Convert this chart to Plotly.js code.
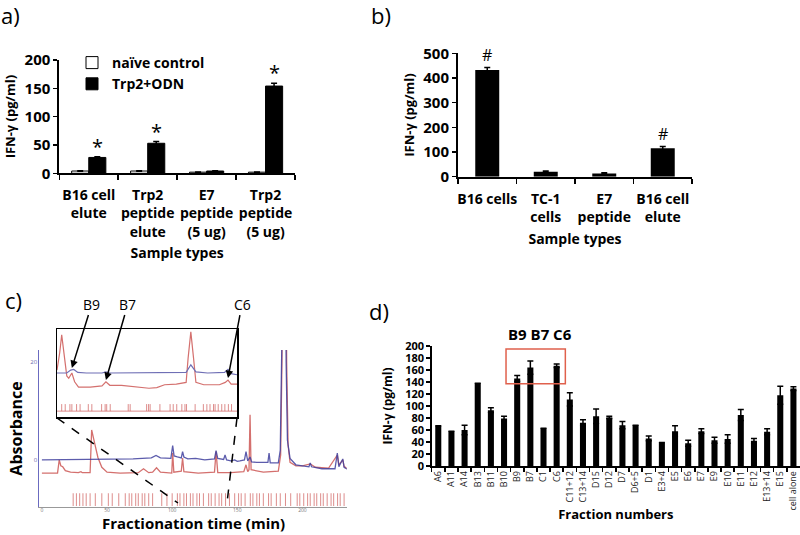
<!DOCTYPE html>
<html>
<head>
<meta charset="utf-8">
<script src="https://cdn.plot.ly/plotly-3.0.1.min.js"></script>
<style>html,body{margin:0;padding:0;background:#fff;}#chart{width:800px;height:535px;}</style>
</head>
<body>
<div id="chart"></div>
<script>
// ---------- Panel a ----------
const aCats = ['B16 cell<br>elute', 'Trp2<br>peptide<br>elute', 'E7<br>peptide<br>(5 ug)', 'Trp2<br>peptide<br>(5 ug)'];
const aNaive = [4, 4, 2, 2];
const aNaiveErr = [0.5, 0.5, 0.3, 0.3];
const aTrp2 = [28, 53, 4, 154];
const aTrp2Err = [1, 3, 0.5, 5];
const aStars = ['*', '*', '', '*'];

// ---------- Panel b ----------
const bCats = ['B16 cells', 'TC-1<br>cells', 'E7<br>peptide', 'B16 cell<br>elute'];
const bVals = [432, 20, 13, 115];
const bErr = [10, 3, 3, 7];
const bMarks = ['#', '', '', '#'];

// ---------- Panel c (chromatogram) ----------
const cBlueT = [0, 40, 70, 84, 87.6, 91, 99, 100.4, 101.5, 104, 107, 108, 109, 112, 118, 125, 132.5, 133.7, 135, 139.5, 140.6, 141.8, 145, 148, 150, 152, 155.5, 156.7, 158, 159.8, 161, 165, 173.5, 174.4, 175.3, 181.5, 183, 184, 184.7, 186.7, 187.5, 188.5, 190.5, 195, 200, 205, 206, 207, 215, 225, 226.8, 228, 231, 232, 235];
const cBlueV = [0, 0.1, 0.2, 0.4, 0.9, 0.4, 0.3, 2.9, 0.8, 0.6, 0.4, 1.7, 0.6, 0.2, 0.3, 0.0, 0.2, 1.9, 0.3, 0.1, 1.0, 0.0, -0.2, 0.0, -0.3, -0.2, 0.0, 1.7, -0.2, 0.6, -0.4, -0.5, -0.5, 1.4, -0.6, -0.6, 2, 20, 60, 60, 20, 4, 0.3, -1.0, -1.2, -1.4, -0.6, -1.4, -1.8, -1.8, 1.4, -1.4, 0.2, -1.5, -2.0];
const cRedT = [0, 12, 13.3, 14.5, 16, 18, 22, 28, 30, 31, 37, 38.2, 40, 43, 46, 50, 60, 74, 78, 82, 85, 88, 91, 99.7, 100.4, 101.3, 107, 108, 109, 120, 132.5, 133.7, 135, 145, 155, 156.7, 158, 159, 159.8, 160.6, 170, 181.5, 183.3, 184.3, 185.1, 187.1, 187.9, 189, 190.5, 195, 200, 206, 210, 220, 226.8, 228, 231, 232, 235];
const cRedV = [-2.7, -2.7, 0, -1.2, -1.4, -2.2, -2.5, -2.6, -2.4, -2.6, -2.6, 6.1, 4.0, 0.5, -1.5, -2.5, -2.7, -2.6, -1.8, -2.6, -2.5, -1.6, -2.5, -2.7, 1.4, -2.5, -2.3, 0.4, -2.4, -2.7, -2.5, 1.7, -2.6, -2.6, -2.4, -1.0, -2.4, -2.0, 9.2, -2.0, -2.5, -2.3, 1, 20, 60, 60, 20, 3, -0.5, -1.2, -1.2, -0.8, -1.5, -1.7, 1.0, -1.0, 0.0, -1.3, -1.9];
const cFracTimes = [24, 26.5, 29, 31.5, 34, 37, 41, 46, 51, 54, 59, 64, 67, 69, 72, 74, 77, 79, 82, 85, 92, 96, 100, 104, 106, 109, 111, 114, 116, 119, 121, 124, 128, 130, 133, 136, 138, 141, 144, 148, 151, 153, 156, 160, 162, 165, 167, 170, 174, 176, 180, 183, 187, 191, 196, 198, 201, 204, 206, 209, 211, 214, 216, 219, 222, 224, 227, 229, 232];
const cXTicks = [0, 50, 100, 150, 200];
const cYTicks = [0, 20];

// ---------- Panel c inset ----------
const iBlueT = [96.5, 99, 100, 100.8, 101.8, 104, 108, 109, 110, 120, 129.5, 130.7, 132, 135, 139.3, 140.2, 141, 142.5];
const iBlueV = [2.5, 2.5, 3.0, 3.1, 2.6, 2.5, 2.5, 2.7, 2.5, 2.5, 2.6, 3.9, 2.7, 2.5, 2.6, 3.1, 2.4, 2.2];
const iRedT = [96.5, 97.2, 97.7, 98.3, 99, 99.5, 100.3, 101, 102, 105, 108, 109, 110, 113, 116, 120, 122, 124, 127, 129.5, 130, 130.7, 131.4, 132, 134, 138, 139.5, 140.2, 141, 142.5];
const iRedV = [3, 6, 9.0, 6, 2.0, 1.6, 2.5, 1.0, 0.1, 0.1, 0.3, 1.0, 0.4, 0.4, 0.2, -0.1, 0.0, 0.5, 0.6, 0.9, 5, 9.5, 5, 0.9, 0.5, 0.5, 0.9, 1.3, 0.6, 0.6];
const iFracTimes = [97.7, 98.6, 99.8, 100.3, 101.5, 102.4, 104.5, 105.4, 107.9, 108.8, 109.2, 110.1, 114.7, 115.2, 119.4, 119.9, 120.3, 122.8, 125.4, 126.2, 127.1, 128.4, 129.2, 129.6, 131.8, 133.9, 134.8, 135.6, 136.5, 136.9, 137.7, 138.6, 139.4, 140.3, 141.1];
const iLabels = ['B9', 'B7', 'C6'];
const iLabelT = [100.3, 109, 140.2];
const iLabelV = [3.35, 1.3, 1.64];

// ---------- Panel d ----------
const dCats = ['A6', 'A11', 'A14', 'B13', 'B11', 'B10', 'B9', 'B7', 'C1', 'C6', 'C11+12', 'C13+14', 'D15', 'D12', 'D7', 'D6+5', 'D1', 'E3+4', 'E5', 'E6', 'E7', 'E9', 'E10', 'E11', 'E12', 'E13+14', 'E15', 'cell alone'];
const dVals = [67, 58, 60, 138, 93, 79, 146, 164, 63, 167, 111, 72, 83, 81, 68, 68, 46, 39, 58, 38, 58, 43, 45, 85, 42, 57, 118, 129];
const dErr = [0, 0, 8, 0, 4, 4, 5, 11, 0, 3, 11, 5, 12, 2, 6, 0, 4, 0, 9, 5, 4, 5, 7, 9, 4, 5, 15, 3];

// ---------- styles ----------
const FONT = 'Open Sans, Noto Sans, sans-serif';
const RED = '#d4706e';
const BLUE = '#3f3f9e';
const errStyle = {type: 'data', visible: true, color: '#000', thickness: 1.5, width: 3};

// build fraction tick segments
function segs(times, lo, hi) {
  const x = [], y = [];
  times.forEach(t => { x.push(t, t, null); y.push(lo, hi, null); });
  return {x, y};
}
const mainFr = segs(cFracTimes, -9.4, -6.8);
const insFr = segs(iFracTimes, -4.0, -2.8);
insFr.x.push(iBlueT[0], iBlueT[iBlueT.length - 1]);
insFr.y.push(-4.0, -4.0);

const traces = [
  {type: 'bar', x: aCats, y: aNaive, name: 'naïve control', xaxis: 'x', yaxis: 'y',
   marker: {color: '#fff', line: {color: '#000', width: 1}},
   error_y: Object.assign({array: aNaiveErr}, errStyle)},
  {type: 'bar', x: aCats, y: aTrp2, name: 'Trp2+ODN', xaxis: 'x', yaxis: 'y',
   marker: {color: '#000', line: {color: '#000', width: 1}},
   error_y: Object.assign({array: aTrp2Err}, errStyle)},
  {type: 'bar', x: bCats, y: bVals, xaxis: 'x2', yaxis: 'y2', showlegend: false, width: 0.41,
   marker: {color: '#000'}, error_y: Object.assign({array: bErr}, errStyle)},
  {type: 'scatter', mode: 'lines', x: mainFr.x, y: mainFr.y, xaxis: 'x3', yaxis: 'y3', showlegend: false,
   line: {color: RED, width: 0.8}, connectgaps: false},
  {type: 'scatter', mode: 'lines', x: cRedT, y: cRedV, xaxis: 'x3', yaxis: 'y3', showlegend: false,
   line: {color: RED, width: 1.3}},
  {type: 'scatter', mode: 'lines', x: cBlueT, y: cBlueV, xaxis: 'x3', yaxis: 'y3', showlegend: false,
   line: {color: BLUE, width: 1.3}, opacity: 0.85},
  {type: 'scatter', mode: 'lines', x: insFr.x, y: insFr.y, xaxis: 'x4', yaxis: 'y4', showlegend: false,
   line: {color: RED, width: 0.8}, connectgaps: false},
  {type: 'scatter', mode: 'lines', x: iRedT, y: iRedV, xaxis: 'x4', yaxis: 'y4', showlegend: false,
   line: {color: RED, width: 1.2}},
  {type: 'scatter', mode: 'lines', x: iBlueT, y: iBlueV, xaxis: 'x4', yaxis: 'y4', showlegend: false,
   line: {color: '#6f6fb5', width: 1.2}},
  {type: 'bar', x: dCats, y: dVals, xaxis: 'x5', yaxis: 'y5', showlegend: false, width: 0.46,
   marker: {color: '#000'}, error_y: Object.assign({array: dErr}, errStyle)}
];

const boldTick = (s) => ({family: FONT, size: s, color: '#000', weight: 'bold'});
const catX = (dom, anchor, fsize) => ({
  domain: dom, anchor: anchor, type: 'category', showline: true, linecolor: '#000', linewidth: 2,
  ticks: 'outside', tickson: 'boundaries', ticklen: 5, tickwidth: 1.5, tickcolor: '#000', tickangle: 0,
  showgrid: false, zeroline: false, tickfont: boldTick(fsize), fixedrange: true
});
const numY = (dom, anchor, range, dtick, fsize) => ({
  domain: dom, anchor: anchor, range: range, dtick: dtick, showline: true, linecolor: '#000', linewidth: 2,
  ticks: 'outside', ticklen: 4, tickwidth: 1.5, tickcolor: '#000', showgrid: false, zeroline: false,
  tickfont: boldTick(fsize), fixedrange: true
});

const annotations = [];
// panel labels
[['a)', 10, 15], ['b)', 381, 15], ['c)', 13, 300], ['d)', 379, 311]].forEach(([t, px, py]) => {
  annotations.push({text: t, xref: 'paper', yref: 'paper', x: px / 800, y: 1 - py / 535,
    xanchor: 'center', yanchor: 'middle', showarrow: false, font: {family: FONT, size: 22, color: '#000'}});
});
// stars panel a
aStars.forEach((s, i) => {
  if (!s) return;
  annotations.push({text: s, xref: 'x', yref: 'y', x: i, y: aTrp2[i] + aTrp2Err[i], xshift: 8.6, yshift: -5,
    yanchor: 'bottom', showarrow: false, font: {family: FONT, size: 20, color: '#000'}});
});
// # panel b
bMarks.forEach((s, i) => {
  if (!s) return;
  annotations.push({text: s, xref: 'x2', yref: 'y2', x: i, y: bVals[i] + bErr[i], yshift: 0,
    yanchor: 'bottom', showarrow: false, font: {family: FONT, size: 16, color: '#000'}});
});
// inset arrows
const arrOff = [[20, -64], [22, -76], [14, -74]];
iLabels.forEach((l, i) => {
  annotations.push({text: l, xref: 'x4', yref: 'y4', x: iLabelT[i], y: iLabelV[i],
    ax: arrOff[i][0], ay: arrOff[i][1], showarrow: true, arrowhead: 2, arrowsize: 1, arrowwidth: 1.5,
    arrowcolor: '#000', font: {family: FONT, size: 14, color: '#000'}});
});
// panel d header
annotations.push({text: '<b>B9 B7 C6</b>', xref: 'paper', yref: 'paper', x: 540 / 800, y: 1 - 334 / 535,
  xanchor: 'center', yanchor: 'middle', showarrow: false, font: {family: FONT, size: 15, color: '#000'}});
// panel c x-axis title (placed as annotation so it sits below the tiny tick labels)
annotations.push({text: '<b>Fractionation time (min)</b>', xref: 'paper', yref: 'paper', x: 193 / 800, y: 0,
  xanchor: 'center', yanchor: 'bottom', yshift: 0, showarrow: false, font: {family: FONT, size: 15, color: '#000'}});

const shapes = [
  {type: 'line', xref: 'paper', yref: 'paper', x0: 57 / 800, y0: 1 - 418 / 535, x1: 178 / 800, y1: 1 - 503 / 535,
   line: {color: '#000', width: 1.5, dash: 'dash'}},
  {type: 'line', xref: 'paper', yref: 'paper', x0: 237 / 800, y0: 1 - 418 / 535, x1: 227 / 800, y1: 1 - 503 / 535,
   line: {color: '#000', width: 1.5, dash: 'dash'}},
  {type: 'rect', xref: 'x5', yref: 'y5', x0: 5.15, x1: 9.66, y0: 137, y1: 195,
   line: {color: '#e0604c', width: 1.5}, fillcolor: 'rgba(0,0,0,0)'}
];

const layout = {
  width: 800, height: 535, margin: {l: 0, r: 0, t: 0, b: 0},
  paper_bgcolor: '#fff', plot_bgcolor: 'rgba(0,0,0,0)',
  font: {family: FONT, color: '#000'},
  barmode: 'group', bargap: 0.42, bargroupgap: 0,
  showlegend: true,
  legend: {x: 72 / 800, y: 1 - 47 / 535, xanchor: 'left', yanchor: 'top', bgcolor: 'rgba(0,0,0,0)',
    font: {family: FONT, size: 14, color: '#000', weight: 'bold'}, itemwidth: 30, tracegroupgap: 0,
    traceorder: 'normal'},
  xaxis: Object.assign(catX([59.3 / 800, 295 / 800], 'y', 14), {ticklabelstandoff: 8,
    title: {text: '<b>Sample types</b>', font: {family: FONT, size: 14}, standoff: 9}}),
  yaxis: Object.assign(numY([1 - 173.3 / 535, 1 - 60 / 535], 'x', [0, 200], 50, 15),
    {title: {text: '<b>IFN-γ (pg/ml)</b>', font: {family: FONT, size: 13}, standoff: 6}}),
  xaxis2: Object.assign(catX([458 / 800, 692 / 800], 'y2', 14), {ticklabelstandoff: 8,
    title: {text: '<b>Sample types</b>', font: {family: FONT, size: 14}, standoff: 9}}),
  yaxis2: Object.assign(numY([1 - 176.7 / 535, 1 - 53.3 / 535], 'x2', [0, 500], 100, 15),
    {title: {text: '<b>IFN-γ (pg/ml)</b>', font: {family: FONT, size: 13}, standoff: 6}}),
  xaxis3: {domain: [39.3 / 800, 346.7 / 800], anchor: 'y3', range: [-2, 234], showline: true, linecolor: '#999',
    linewidth: 1, ticks: '', tickvals: cXTicks, tickfont: {family: FONT, size: 5, color: '#777'},
    ticklabelstandoff: -2, showgrid: false, zeroline: false, fixedrange: true},
  yaxis3: {domain: [1 - 507 / 535, 1 - 350 / 535], anchor: 'x3', range: [-9.6, 22.4], showline: true,
    linecolor: '#6b6bc0', linewidth: 1, ticks: '', tickvals: cYTicks, tickfont: {family: FONT, size: 6, color: '#6b6bb0'},
    showgrid: false, zeroline: false, fixedrange: true,
    title: {text: '<b>Absorbance</b>', font: {family: FONT, size: 16}, standoff: 3}},
  xaxis4: {domain: [57 / 800, 237 / 800], anchor: 'y4', range: [96.5, 142.5], showline: true, mirror: true,
    linecolor: '#000', linewidth: 1.5, ticks: '', showticklabels: false, showgrid: false, zeroline: false, fixedrange: true},
  yaxis4: {domain: [1 - 417 / 535, 1 - 329 / 535], anchor: 'x4', range: [-5, 10], showline: true, mirror: true,
    linecolor: '#000', linewidth: 1.5, ticks: '', showticklabels: false, showgrid: false, zeroline: false, fixedrange: true},
  xaxis5: Object.assign(catX([431.7 / 800, 800 / 800], 'y5', 9), {tickangle: -90,
    tickfont: {family: FONT, size: 9, color: '#222'}, linewidth: 1.5, ticklen: 4,
    title: {text: '<b>Fraction numbers</b>', font: {family: FONT, size: 13}, standoff: 0}}),
  yaxis5: Object.assign(numY([1 - 466 / 535, 1 - 346 / 535], 'x5', [0, 200], 20, 11), {linewidth: 1.5,
    title: {text: '<b>IFN-γ (pg/ml)</b>', font: {family: FONT, size: 12}, standoff: 10}}),
  annotations: annotations,
  shapes: shapes
};

Plotly.newPlot('chart', traces, layout, {staticPlot: true, displayModeBar: false});
</script>
</body>
</html>
